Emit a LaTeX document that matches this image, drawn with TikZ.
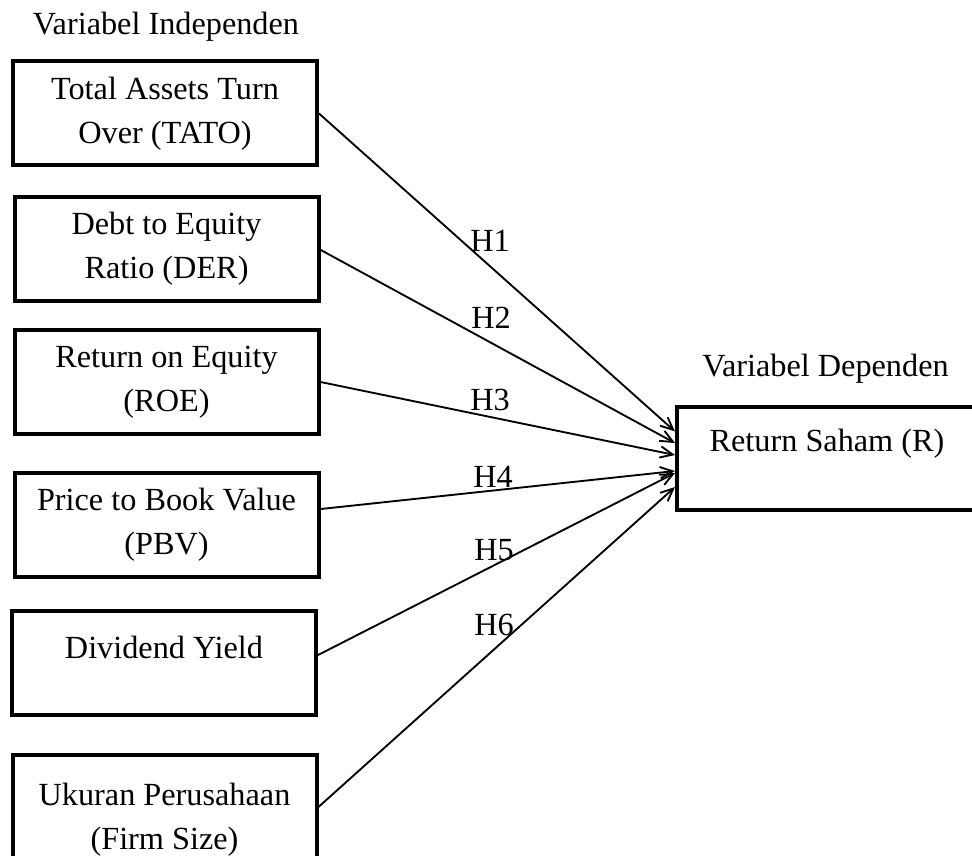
\documentclass[tikz,border=0pt]{standalone}
\usepackage{fontspec}
\setmainfont{Liberation Serif}
\usetikzlibrary{arrows.meta}
\begin{document}
\begin{tikzpicture}[x=0.75pt,y=-0.75pt,
  txt/.style={font=\fontsize{24.2pt}{33pt}\selectfont, inner sep=0pt},
  varbox/.style={txt, draw, line width=3pt, rectangle, align=center,
    minimum width=228pt, minimum height=78pt},
  hyp/.style={-{Straight Barb[length=9.5pt,width=8.5pt]}, line width=1.4pt},
  hlabel/.style={txt}]
\useasboundingbox (0,0) rectangle (972,856);
\clip (0,0) rectangle (972,856);
\fill[white] (0,0) rectangle (972,856);

\node[txt, anchor=base] (indep) at (166,35) {Variabel Independen};
\node[txt, anchor=base] (dep) at (825.5,376) {Variabel Dependen};

\node[varbox] (b1) at (165,113.5) {Total Assets Turn\\Over (TATO)};
\node[varbox] (b2) at (166.5,248.5) {Debt to Equity\\Ratio (DER)};
\node[varbox] (b3) at (166.5,382) {Return on Equity\\(ROE)};
\node[varbox] (b4) at (166.5,524.5) {Price to Book Value\\(PBV)};
\node[varbox, text height=17pt, text depth=23pt] (b5) at (164,662.5) {Dividend Yield};
\node[varbox, minimum height=96.75pt] (b6) at (164.5,819.5) {Ukuran Perusahaan\\(Firm Size)};

\node[varbox, minimum width=225pt, minimum height=77.25pt,
      text height=18pt, text depth=28pt] (R) at (827,458.5) {Return Saham (R)};

\draw[hyp] (b1.east) -- ([yshift=20.3pt]R.west);
\draw[hyp] ([yshift=-1pt]b2.east) -- ([yshift=11.6pt]R.west);
\draw[hyp] (b3.east) -- ([yshift=2.6pt]R.west);
\draw[hyp] ([yshift=11.6pt]b4.east) -- ([yshift=-9.4pt]R.west);
\draw[hyp] ([yshift=5.6pt]b5.east) -- ([yshift=-10.9pt]R.west);
\draw[hyp] ([yshift=9.4pt]b6.east) -- ([yshift=-21.4pt]R.west);

\node[hlabel] (h1) at (490,241) {H1};
\node[hlabel] (h2) at (491,318) {H2};
\node[hlabel] (h3) at (490,400) {H3};
\node[hlabel] (h4) at (493,477) {H4};
\node[hlabel] (h5) at (494,550) {H5};
\node[hlabel] (h6) at (494,625) {H6};
\end{tikzpicture}
\end{document}
